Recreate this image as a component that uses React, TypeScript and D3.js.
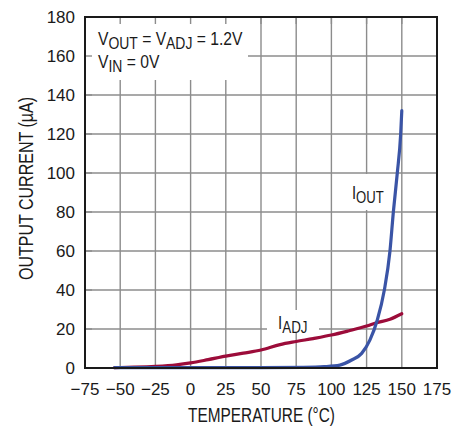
import React from "react";
import * as d3 from "d3";

const xTicks = [-75, -50, -25, 0, 25, 50, 75, 100, 125, 150, 175];
const yTicks = [0, 20, 40, 60, 80, 100, 120, 140, 160, 180];

const adjTemp = [-54, -40, -25, -10, 0, 12.5, 25, 37.5, 50, 63.5, 75, 87, 100, 112, 125, 132, 141.6, 150];
const adjCurrent = [0.2, 0.4, 0.8, 1.6, 2.6, 4.3, 6.1, 7.6, 9.2, 12, 13.6, 15.1, 16.9, 19, 21.5, 23.2, 25, 27.8];

const outTemp = [-54, 0, 50, 80, 95, 106, 114.4, 121.5, 127.4, 132.6, 137.6, 141.6, 144, 146.8, 149.2, 150];
const outCurrent = [0.15, 0.15, 0.2, 0.35, 0.7, 1.5, 4.1, 7.5, 14.4, 24.6, 40, 60, 80, 100, 120, 132];

const W = 466;
const H = 428;
const M = { left: 85, right: 437, top: 17, bottom: 368 };

const FONT = "'Liberation Sans', Arial, sans-serif";
const GRID = "#8c8c8c";
const BLUE = "#3a54a6";
const RED = "#9c0c3a";
const INK = "#1a1a1a";

function Sub({ x, y, sx, parts }: { x: number; y: number; sx: number; parts: [string, boolean][] }) {
  return (
    <g transform={`translate(${x},${y}) scale(${sx},1)`}>
      <text x={0} y={0} fontFamily={FONT} fontSize={18} fill={INK}>
        {parts.map(([s, sub], i) => (
          <tspan key={i} dy={i === 0 ? (sub ? 4 : 0) : sub ? 4 : -4} fontSize={sub ? 16 : 18}>
            {s}
          </tspan>
        ))}
      </text>
    </g>
  );
}

export default function App() {
  const x = d3.scaleLinear().domain([-75, 175]).range([M.left, M.right]);
  const y = d3.scaleLinear().domain([0, 180]).range([M.bottom, M.top]);

  const adjData = adjTemp.map((t, i) => [t, adjCurrent[i]] as [number, number]);
  const outData = outTemp.map((t, i) => [t, outCurrent[i]] as [number, number]);

  const line = d3
    .line<[number, number]>()
    .x((d) => x(d[0]))
    .y((d) => y(d[1]))
    .curve(d3.curveMonotoneX);

  return (
    <svg width={W} height={H} style={{ position: "absolute", left: 0, top: 0, background: "#fff" }}>
      {/* grid */}
      {xTicks.slice(1, -1).map((t) => (
        <line key={"gx" + t} x1={x(t)} x2={x(t)} y1={M.top} y2={M.bottom} stroke={GRID} strokeWidth={1.4} />
      ))}
      {yTicks.slice(1, -1).map((t) => (
        <line key={"gy" + t} x1={M.left} x2={M.right} y1={y(t)} y2={y(t)} stroke={GRID} strokeWidth={1.4} />
      ))}

      {/* label backgrounds */}
      <rect x={M.left} y={M.top} width={163} height={63} fill="#fff" />
      <rect x={346} y={174} width={42} height={36} fill="#fff" />
      <rect x={267} y={310} width={52} height={23} fill="#fff" />

      {/* ticks over the annotation box */}
      {xTicks.slice(1, -1).map((t) => (
        <line key={"tx" + t} x1={x(t)} x2={x(t)} y1={M.top} y2={M.top + 7} stroke={GRID} strokeWidth={1.4} />
      ))}
      {yTicks.slice(1, -1).map((t) => (
        <line key={"ty" + t} x1={M.left} x2={M.left + 7} y1={y(t)} y2={y(t)} stroke={GRID} strokeWidth={1.4} />
      ))}

      {/* curves */}
      <path d={line(adjData) || ""} fill="none" stroke={RED} strokeWidth={3.2} strokeLinecap="round" />
      <path d={line(outData) || ""} fill="none" stroke={BLUE} strokeWidth={3.2} strokeLinecap="round" />

      {/* frame */}
      <rect
        x={M.left}
        y={M.top}
        width={M.right - M.left}
        height={M.bottom - M.top}
        fill="none"
        stroke={INK}
        strokeWidth={2}
      />

      {/* y tick labels */}
      {yTicks.map((t) => (
        <text key={"yl" + t} x={75} y={y(t) + 6} textAnchor="end" fontFamily={FONT} fontSize={17} fill={INK}>
          {t}
        </text>
      ))}
      {/* x tick labels */}
      {xTicks.map((t) => (
        <text key={"xl" + t} x={x(t)} y={395} textAnchor="middle" fontFamily={FONT} fontSize={17} fill={INK}>
          {t < 0 ? "\u2212" + Math.abs(t) : String(t)}
        </text>
      ))}

      {/* axis titles */}
      <text
        x={188}
        y={422}
        textLength={147}
        lengthAdjust="spacingAndGlyphs"
        fontFamily={FONT}
        fontSize={19.5}
        fill={INK}
      >
        TEMPERATURE (°C)
      </text>
      <text
        transform={`translate(33,280) rotate(-90)`}
        x={0}
        y={0}
        textLength={183}
        lengthAdjust="spacingAndGlyphs"
        fontFamily={FONT}
        fontSize={19.5}
        fill={INK}
      >
        OUTPUT CURRENT (µA)
      </text>

      {/* annotation */}
      <Sub x={98} y={45} sx={0.87} parts={[["V", false], ["OUT", true], [" = V", false], ["ADJ", true], [" = 1.2V", false]]} />
      <Sub x={98} y={68} sx={0.87} parts={[["V", false], ["IN", true], [" = 0V", false]]} />

      {/* curve labels */}
      <Sub x={352} y={198.5} sx={0.82} parts={[["I", false], ["OUT", true]]} />
      <Sub x={278} y={329} sx={0.84} parts={[["I", false], ["ADJ", true]]} />
    </svg>
  );
}
